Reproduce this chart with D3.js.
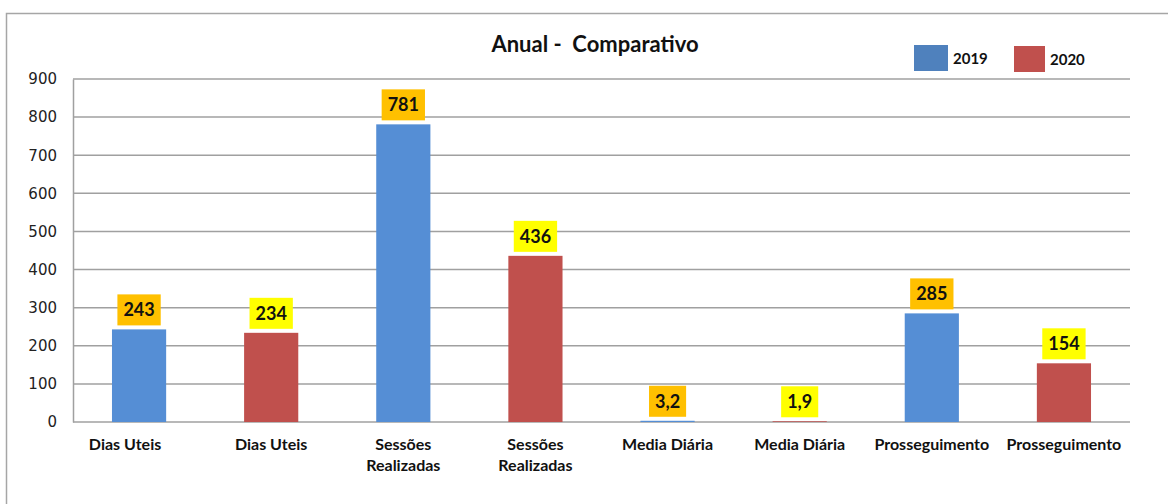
<!DOCTYPE html>
<html>
<head>
<meta charset="utf-8">
<script src="https://cdn.jsdelivr.net/npm/d3@7"></script>
<style>
  body { margin: 0; background: #fff; }
  svg { display: block; }
</style>
</head>
<body>
<div id="chart"></div>
<script>
// chart data
const categories = ["Dias Uteis", "Dias Uteis", "Sessões Realizadas", "Sessões Realizadas",
                    "Media Diária", "Media Diária", "Prosseguimento", "Prosseguimento"];
const years = ["2019", "2020", "2019", "2020", "2019", "2020", "2019", "2020"];
const values = [243, 234, 781, 436, 3.2, 1.9, 285, 154];
const yTicks = [0, 100, 200, 300, 400, 500, 600, 700, 800, 900];
const seriesNames = ["2019", "2020"];

// colours
const barColor = {"2019": "#558ED5", "2020": "#C0504D"};
const legendColor = {"2019": "#4F81BD", "2020": "#C0504D"};
const boxColor = {"2019": "#FFC000", "2020": "#FFFF00"};

const W = 1168, H = 504;
let margin = {top: 79, right: 38, bottom: 82, left: 73},
    width = W - margin.left - margin.right,
    height = H - margin.top - margin.bottom;

// portuguese number format (3,2)
const pt = d3.formatLocale({decimal: ",", thousands: ".", grouping: [3], currency: ["R$", ""]});
const fmt = pt.format("~r");

const svg = d3.select("#chart").append("svg")
    .attr("width", W)
    .attr("height", H);

// outer frame
svg.append("rect")
    .attr("x", 6.5).attr("y", 13.5)
    .attr("width", W + 10).attr("height", H)
    .attr("fill", "none")
    .attr("stroke", "#A6A6A6")
    .attr("stroke-width", 1.5);

const g = svg.append("g")
    .attr("transform", "translate(" + margin.left + "," + margin.top + ")");

const idx = d3.range(values.length);

const x = d3.scaleBand()
    .domain(idx)
    .range([0, width])
    .paddingInner(0.59)
    .paddingOuter(0.295);

const y = d3.scaleLinear()
    .domain([0, 900])
    .range([height, 0]);

// gridlines
g.append("g")
    .selectAll("line")
    .data(yTicks)
    .enter().append("line")
    .attr("x1", 0).attr("x2", width)
    .attr("y1", d => y(d)).attr("y2", d => y(d))
    .attr("stroke", "#A0A0A0")
    .attr("stroke-width", 1.5);

// y axis
const yAxis = g.append("g")
    .call(d3.axisLeft(y).tickValues(yTicks).tickSize(0).tickPadding(16));
yAxis.select(".domain").attr("stroke", "#A0A0A0").attr("stroke-width", 1.5);
yAxis.selectAll("text")
    .style("font-family", "'DejaVu Sans', sans-serif")
    .style("font-size", "15px")
    .attr("fill", "#222");

// bars
g.selectAll(".bar")
    .data(idx)
    .enter().append("rect")
    .attr("class", "bar")
    .attr("x", i => x(i))
    .attr("y", i => y(values[i]))
    .attr("width", x.bandwidth())
    .attr("height", i => height - y(values[i]))
    .attr("fill", i => barColor[years[i]]);

// value labels with coloured boxes
const lab = g.selectAll(".vlabel")
    .data(idx)
    .enter().append("g")
    .attr("class", "vlabel");

lab.append("text")
    .attr("x", i => x(i) + x.bandwidth() / 2)
    .attr("y", i => y(values[i]) - 4 - 9)
    .attr("text-anchor", "middle")
    .style("font-family", "Lato")
    .style("font-weight", "bold")
    .style("font-size", "18px")
    .attr("fill", "#111")
    .text(i => fmt(values[i]));

lab.each(function(i) {
    const t = d3.select(this).select("text");
    const w = t.node().getComputedTextLength();
    d3.select(this).insert("rect", "text")
        .attr("x", x(i) + x.bandwidth() / 2 - w / 2 - 6)
        .attr("y", y(values[i]) - 4 - 31)
        .attr("width", w + 12)
        .attr("height", 31)
        .attr("fill", boxColor[years[i]]);
});

// category labels (wrapped)
const cat = g.selectAll(".cat")
    .data(idx)
    .enter().append("text")
    .attr("class", "cat")
    .attr("text-anchor", "middle")
    .attr("x", i => x(i) + x.bandwidth() / 2)
    .attr("y", height + 28)
    .style("font-family", "Lato")
    .style("font-weight", "bold")
    .style("font-size", "16px")
    .attr("fill", "#111");

cat.each(function(i) {
    const words = categories[i].split(" ");
    const lines = categories[i] === "Sessões Realizadas" ? words : [categories[i]];
    // first label sits a bit left of its bar in the original
    const cx = x(i) + x.bandwidth() / 2 - (i === 0 ? 14 : 0);
    d3.select(this).selectAll("tspan")
        .data(lines)
        .enter().append("tspan")
        .attr("x", cx)
        .attr("dy", (d, k) => k === 0 ? 0 : 21)
        .text(d => d);
});

// title
svg.append("text")
    .attr("x", 595)
    .attr("y", 52)
    .attr("text-anchor", "middle")
    .style("font-family", "Lato")
    .style("font-weight", "bold")
    .style("font-size", "22px")
    .style("white-space", "pre")
    .attr("fill", "#111")
    .text("Anual -  Comparativo");

// legend
const legend = svg.append("g")
    .selectAll("g")
    .data(seriesNames)
    .enter().append("g")
    .attr("transform", (d, k) => "translate(" + (914 + k * 100) + "," + (45 + k) + ")");

legend.append("rect")
    .attr("width", (d, k) => k === 0 ? 34 : 31)
    .attr("height", 26)
    .attr("fill", d => legendColor[d]);

legend.append("text")
    .attr("x", (d, k) => k === 0 ? 39 : 36)
    .attr("y", 19)
    .style("font-family", "Lato")
    .style("font-weight", "bold")
    .style("font-size", "15px")
    .attr("fill", "#111")
    .text(d => d);
</script>
</body>
</html>
